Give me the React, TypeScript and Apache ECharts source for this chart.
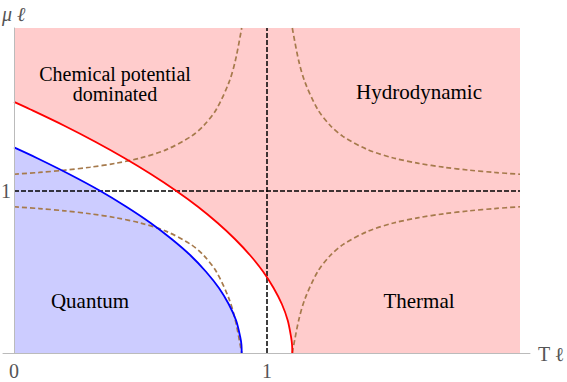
import React, { useEffect, useRef } from "react";
import * as echarts from "echarts";

// Red boundary (x, y)
const redCurve: number[][] = [
  [0, 1.545], [0.063, 1.5], [0.197, 1.4], [0.321, 1.3], [0.436, 1.2], [0.542, 1.1],
  [0.639, 1.0], [0.727, 0.9], [0.805, 0.8], [0.874, 0.7], [0.934, 0.6], [0.985, 0.5],
  [1.026, 0.4], [1.059, 0.3], [1.082, 0.2], [1.095, 0.1], [1.099, 0.05], [1.1, 0],
];
// Blue boundary (x, y)
const blueCurve: number[][] = [
  [0, 1.265], [0.09, 1.2], [0.219, 1.1], [0.338, 1.0], [0.444, 0.9], [0.54, 0.8],
  [0.624, 0.7], [0.698, 0.6], [0.759, 0.5], [0.81, 0.4], [0.849, 0.3], [0.878, 0.2],
  [0.894, 0.1], [0.899, 0.05], [0.9, 0],
];
// Dashed brown crossover curves
const dashUpperLeft: number[][] = [
  [0, 1.1], [0.1, 1.111], [0.2, 1.125], [0.3, 1.143], [0.4, 1.167], [0.5, 1.2],
  [0.6, 1.25], [0.7, 1.333], [0.75, 1.4], [0.8, 1.5], [0.85, 1.667], [0.875, 1.8], [0.9, 2.0],
];
const dashLowerLeft: number[][] = [
  [0, 0.9], [0.1, 0.889], [0.2, 0.875], [0.3, 0.857], [0.4, 0.833], [0.5, 0.8],
  [0.6, 0.75], [0.7, 0.667], [0.75, 0.6], [0.8, 0.5], [0.85, 0.333], [0.875, 0.2], [0.9, 0],
];
const dashUpperRight: number[][] = [
  [1.1, 2.0], [1.125, 1.8], [1.15, 1.667], [1.2, 1.5], [1.25, 1.4], [1.3, 1.333],
  [1.4, 1.25], [1.5, 1.2], [1.6, 1.167], [1.7, 1.143], [1.8, 1.125], [1.9, 1.111], [2.0, 1.1],
];
const dashLowerRight: number[][] = [
  [1.1, 0], [1.125, 0.2], [1.15, 0.333], [1.2, 0.5], [1.25, 0.6], [1.3, 0.667],
  [1.4, 0.75], [1.5, 0.8], [1.6, 0.833], [1.7, 0.857], [1.8, 0.875], [1.9, 0.889], [2.0, 0.9],
];
const xTicks = [0, 1];
const yTicks = [1];

const FONT = "Liberation Serif";
const BROWN = "#a67a4c";

export default function App() {
  const ref = useRef<HTMLDivElement>(null);
  useEffect(() => {
    if (!ref.current) return;
    const chart = echarts.init(ref.current, null, { renderer: "svg" });
    const dashed = (data: number[][]) => ({
      type: "line",
      data,
      smooth: 0.3,
      symbol: "none",
      z: 5,
      lineStyle: { color: BROWN, width: 1.7, type: [5, 3] },
    });
    const label = (text: string, x: number, y: number, size = 21) => ({
      type: "text",
      x,
      y,
      z: 20,
      style: {
        text,
        fontFamily: FONT,
        fontSize: size,
        lineHeight: 17,
        fill: "#000",
        align: "center",
        verticalAlign: "middle",
      },
    });
    chart.setOption({
      animation: false,
      grid: { left: 3, top: 28, width: 527, height: 325, outerBoundsMode: "none", containLabel: false },
      xAxis: {
        type: "value",
        min: -0.0435,
        max: 2.0395,
        z: 10,
        axisLine: { show: true, onZero: false, lineStyle: { color: "#bbbbbb", width: 1 } },
        axisTick: { show: false },
        splitLine: { show: false },
        axisLabel: {
          customValues: xTicks,
          color: "#555",
          fontFamily: FONT,
          fontSize: 20,
          margin: 8,
        },
      },
      yAxis: {
        type: "value",
        min: 0,
        max: 2,
        z: 10,
        offset: -11,
        axisLine: { show: true, onZero: false, lineStyle: { color: "#bbbbbb", width: 1 } },
        axisTick: { show: false },
        splitLine: { show: false },
        axisLabel: {
          customValues: yTicks,
          color: "#555",
          fontFamily: FONT,
          fontSize: 20,
          margin: 3,
        },
      },
      series: [
        {
          type: "line",
          data: [],
          z: 1,
          markArea: {
            silent: true,
            itemStyle: { color: "#ffcccc" },
            data: [[{ coord: [0, 0] }, { coord: [2, 2] }]],
          },
        },
        {
          type: "line",
          data: redCurve,
          smooth: 0.3,
          symbol: "none",
          z: 2,
          lineStyle: { width: 0 },
          areaStyle: { color: "#ffffff", opacity: 1 },
        },
        {
          type: "line",
          data: blueCurve,
          smooth: 0.3,
          symbol: "none",
          z: 3,
          lineStyle: { width: 0 },
          areaStyle: { color: "#ccccff", opacity: 1 },
        },
        dashed(dashUpperLeft),
        dashed(dashLowerLeft),
        dashed(dashUpperRight),
        dashed(dashLowerRight),
        {
          type: "line",
          data: blueCurve,
          smooth: 0.3,
          symbol: "none",
          z: 6,
          lineStyle: { color: "#0000ff", width: 1.8 },
        },
        {
          type: "line",
          data: redCurve,
          smooth: 0.3,
          symbol: "none",
          z: 6,
          lineStyle: { color: "#ff0000", width: 1.8 },
        },
        {
          type: "line",
          data: [],
          z: 7,
          markLine: {
            silent: true,
            symbol: "none",
            label: { show: false },
            lineStyle: { color: "#000000", width: 1.5, type: [5, 2] },
            data: [
              [{ coord: [1, 0] }, { coord: [1, 2] }],
              [{ coord: [0, 1] }, { coord: [2, 1] }],
            ],
          },
        },
      ],
      graphic: [
        label("Chemical potential", 115, 74, 20),
        label("dominated", 115, 94, 20),
        label("Hydrodynamic", 419, 92),
        label("Quantum", 90, 301),
        label("Thermal", 419, 301),
        {
          type: "text",
          x: 538,
          y: 354,
          z: 20,
          style: { text: "T ℓ", fontFamily: FONT, fontSize: 20, fill: "#555", align: "left", verticalAlign: "middle" },
        },
        {
          type: "text",
          x: 2,
          y: 14,
          z: 20,
          style: { text: "μ ℓ", fontFamily: FONT, fontSize: 20, fontStyle: "italic", fill: "#555", align: "left", verticalAlign: "middle" },
        },
      ],
    });
    return () => chart.dispose();
  }, []);
  return <div ref={ref} style={{ width: 567, height: 382, position: "absolute", left: 0, top: 0 }} />;
}
